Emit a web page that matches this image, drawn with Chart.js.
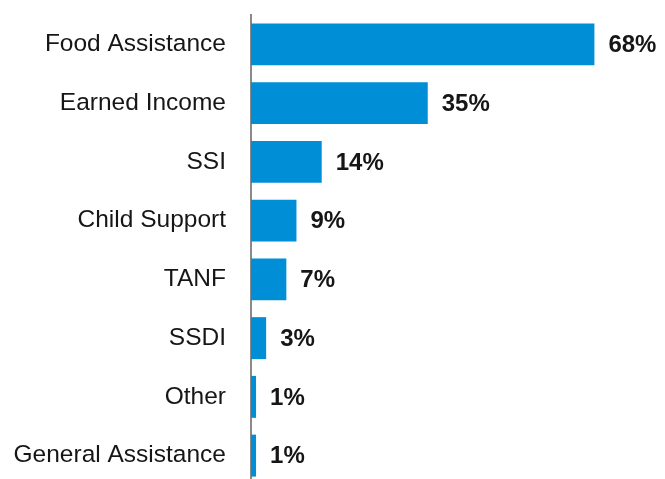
<!DOCTYPE html>
<html>
<head>
<meta charset="utf-8">
<script src="https://cdn.jsdelivr.net/npm/chart.js@4/dist/chart.umd.min.js"></script>
<style>
	html, body { margin: 0; padding: 0; background: #fff; overflow: hidden; }
	#wrap { position: relative; width: 665px; height: 479px; overflow: hidden; }
	#wrap canvas { position: absolute; left: 0; top: 0; }
</style>
</head>
<body>
<div id="wrap"><canvas id="chart" width="665" height="485"></canvas></div>
<script>
// income sources, share of households
const categories = ["Food Assistance", "Earned Income", "SSI", "Child Support", "TANF", "SSDI", "Other", "General Assistance"];
const shares = [68, 35, 14, 9, 7, 3, 1, 1];
const valueLabels = ["68%", "35%", "14%", "9%", "7%", "3%", "1%", "1%"];

const barColor = "#008fd6";
const textColor = "#161616";
const labelFont = "'Liberation Sans', Arial, sans-serif";

// writes the percentage just past the end of each bar
const valueLabelPlugin = {
	id: "valueLabels",
	afterDatasetsDraw(chart) {
		const ctx = chart.ctx;
		const meta = chart.getDatasetMeta(0);
		ctx.save();
		ctx.font = "bold 24px " + labelFont;
		ctx.fillStyle = textColor;
		ctx.textAlign = "left";
		ctx.textBaseline = "middle";
		meta.data.forEach((bar, i) => {
			ctx.fillText(valueLabels[i], bar.x + 14, bar.y + 1);
		});
		ctx.restore();
	}
};

new Chart(document.getElementById("chart").getContext("2d"), {
	type: "bar",
	data: {
		labels: categories,
		datasets: [{
			data: shares,
			backgroundColor: barColor,
			borderWidth: 0,
			barPercentage: 0.714,
			categoryPercentage: 1
		}]
	},
	options: {
		indexAxis: "y",
		responsive: false,
		animation: false,
		layout: { padding: { top: 15, right: 10, bottom: 0, left: 0 } },
		plugins: {
			legend: { display: false },
			tooltip: { enabled: false }
		},
		scales: {
			x: {
				display: false,
				min: 0,
				max: 80
			},
			y: {
				afterFit(scale) {
					// fixed label column, no extra room above/below the bars
					scale.width = 251;
					scale.paddingTop = 0;
					scale.paddingBottom = 0;
				},
				grid: { display: false, drawTicks: false },
				border: { display: true, color: "#8a8a8a", width: 2 },
				ticks: {
					padding: 25,
					color: textColor,
					font: { family: labelFont, size: 24.5 }
				}
			}
		}
	},
	plugins: [valueLabelPlugin]
});
</script>
</body>
</html>
